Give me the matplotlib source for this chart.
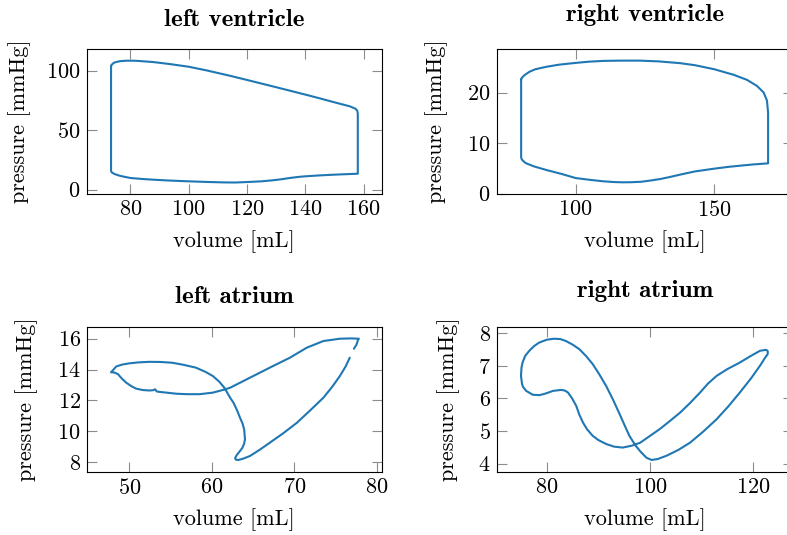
import matplotlib
matplotlib.use("Agg")
import matplotlib.pyplot as plt

plt.rcParams['font.family'] = ['cmr10', 'DejaVu Serif']
plt.rcParams['axes.formatter.use_mathtext'] = True
plt.rcParams['mathtext.fontset'] = 'cm'

FS = 16.0
TFS = 18.0
LINE_COLOR = '#1f77b4'

# ---------------- data ----------------
lv_volume = [73.4, 73.4, 73.4, 73.6, 74.5, 76.5, 80.0, 84.0, 87.7, 93.0, 100.0, 106.0,
             112.0, 116.0, 120.0, 125.0, 129.0, 132.0, 135.0, 138.0, 140.0, 145.0, 150.0,
             155.0, 158.0, 158.0, 158.0, 157.8, 157.2, 155.3, 150.0, 145.0, 140.0, 130.0,
             120.0, 114.0, 106.0, 100.0, 94.0, 88.0, 82.0, 79.0, 76.5, 74.5, 73.6, 73.4]
lv_pressure = [103.5, 60.0, 16.0, 14.6, 13.2, 11.6, 9.8, 9.0, 8.4, 7.7, 7.0, 6.5,
               6.1, 6.0, 6.4, 7.0, 7.9, 8.8, 9.9, 10.8, 11.2, 12.0, 12.6,
               13.1, 13.4, 40.0, 64.0, 66.5, 68.0, 70.0, 73.4, 76.7, 79.9, 86.1,
               92.2, 95.8, 100.3, 103.3, 105.4, 107.2, 108.3, 108.4, 108.0, 106.8, 105.0, 103.5]

rv_volume = [80.4, 80.4, 80.6, 81.1, 82.0, 85.0, 89.4, 95.0, 100.0, 105.0, 110.0, 114.0,
             117.0, 120.0, 123.5, 127.0, 130.5, 134.0, 137.7, 143.0, 150.0, 155.0, 159.4,
             164.0, 169.4, 169.4, 169.0, 167.8, 165.4, 161.8, 157.0, 150.0, 143.0, 137.7,
             130.0, 123.3, 116.0, 110.0, 105.0, 100.0, 94.0, 89.4, 85.5, 83.4, 81.8, 80.8, 80.4]
rv_pressure = [22.6, 7.2, 6.8, 6.5, 6.06, 5.4, 4.7, 3.9, 3.1, 2.75, 2.45, 2.3,
               2.25, 2.27, 2.35, 2.6, 2.9, 3.3, 3.77, 4.4, 4.95, 5.3, 5.54,
               5.78, 6.0, 16.0, 18.4, 20.0, 21.3, 22.5, 23.5, 24.6, 25.4, 25.8,
               26.15, 26.3, 26.3, 26.25, 26.1, 25.85, 25.5, 25.07, 24.6, 24.1, 23.5, 23.0, 22.6]

la_volume = [77.2, 77.5, 77.7, 77.8, 76.8, 75.5, 73.5, 71.5, 69.45, 67.0, 64.6, 62.2,
             61.5, 60.1, 58.5, 57.0, 55.7, 54.5, 53.6, 53.3, 53.1, 52.9, 52.4, 51.6,
             50.8, 50.2, 49.6, 49.1, 48.6, 48.2, 47.9, 47.76, 47.9, 48.4, 49.1, 49.97,
             51.0, 52.4, 53.8, 55.2, 56.6, 58.06, 59.2, 60.1, 60.9, 61.5, 62.2, 62.6,
             63.0, 63.4, 63.7, 63.9, 64.0, 63.9, 63.7, 63.3, 63.0, 62.8, 62.9, 63.2,
             63.8, 64.6, 65.8, 67.0, 68.6, 70.3, 71.9, 73.5, 74.6, 75.5, 76.2, 76.7]
la_pressure = [15.35, 15.6, 15.92, 16.0, 16.02, 16.0, 15.85, 15.42, 14.77, 14.12, 13.47, 12.82,
               12.7, 12.5, 12.4, 12.4, 12.43, 12.5, 12.55, 12.58, 12.72, 12.66, 12.64, 12.67,
               12.76, 12.93, 13.15, 13.4, 13.7, 13.8, 13.82, 13.82, 13.9, 14.2, 14.32, 14.4,
               14.46, 14.5, 14.49, 14.44, 14.3, 14.12, 13.85, 13.58, 13.2, 12.82, 12.17, 11.85,
               11.4, 10.87, 10.5, 10.12, 9.47, 9.2, 8.93, 8.65, 8.45, 8.25, 8.15, 8.13,
               8.22, 8.39, 8.8, 9.25, 9.85, 10.55, 11.35, 12.17, 12.9, 13.58, 14.2, 14.77]

ra_volume = [75.0, 75.1, 75.3, 75.8, 76.6, 77.5, 78.5, 80.0, 81.4, 82.6, 83.7, 85.0,
             86.3, 87.6, 88.9, 90.2, 91.5, 92.8, 94.1, 95.0, 96.0, 97.2, 98.3, 99.3,
             100.3, 101.5, 103.2, 105.5, 107.75, 110.3, 112.9, 115.2, 117.4, 119.5, 121.3, 122.3,
             122.8, 122.8, 122.5, 121.3, 119.5, 117.4, 115.0, 112.9, 111.2, 109.7, 107.7, 105.8,
             103.8, 101.9, 100.0, 98.1, 96.5, 94.7, 93.0, 91.5, 90.0, 88.9, 87.8, 87.0,
             86.3, 85.7, 84.9, 84.1, 83.5, 82.8, 81.2, 79.8, 78.6, 77.3, 76.0, 75.4, 75.2, 75.0]
ra_pressure = [6.69, 6.95, 7.1, 7.3, 7.46, 7.6, 7.71, 7.8, 7.83, 7.82, 7.76, 7.65,
               7.51, 7.3, 7.05, 6.73, 6.38, 5.97, 5.52, 5.2, 4.85, 4.55, 4.34, 4.18,
               4.11, 4.14, 4.24, 4.42, 4.64, 4.98, 5.36, 5.76, 6.18, 6.6, 7.0, 7.25,
               7.36, 7.45, 7.49, 7.46, 7.3, 7.1, 6.9, 6.69, 6.45, 6.18, 5.85, 5.56,
               5.3, 5.06, 4.85, 4.64, 4.55, 4.49, 4.52, 4.6, 4.72, 4.85, 5.05, 5.26,
               5.5, 5.77, 6.0, 6.18, 6.24, 6.26, 6.23, 6.15, 6.1, 6.11, 6.23, 6.35, 6.44, 6.69]

titles = ['left ventricle', 'right ventricle', 'left atrium', 'right atrium']
xlabel = 'volume [mL]'
ylabel = 'pressure [mmHg]'

# ---------------- figure ----------------
W, H = 787, 535
fig = plt.figure(figsize=(W / 100, H / 100), dpi=100)


def px_axes(left, top, right, bottom):
    return fig.add_axes([left / W, (H - bottom) / H, (right - left) / W, (bottom - top) / H])


panels = [
    dict(rect=(86.7, 49, 382, 193.7), x=lv_volume, y=lv_pressure, xlim=(65.05, 166.3),
         ylim=(-3.4, 118.2), xt=[80, 100, 120, 140, 160], yt=[0, 50, 100],
         ylab_x=-0.189, title_gap=23.5),
    dict(rect=(497, 49, 792.5, 193.7), x=rv_volume, y=rv_pressure, xlim=(71.7, 178.2),
         ylim=(0.0, 28.6), xt=[100, 150], yt=[0, 10, 20], ylab_x=-0.166, title_gap=28.3),
    dict(rect=(87, 327, 381.7, 471.7), x=la_volume, y=la_pressure, xlim=(44.85, 80.57),
         ylim=(7.37, 16.76), xt=[50, 60, 70, 80], yt=[8, 10, 12, 14, 16],
         ylab_x=-0.166, title_gap=23.7),
    dict(rect=(497, 327, 792.5, 471.7), x=ra_volume, y=ra_pressure, xlim=(70.35, 127.6),
         ylim=(3.75, 8.19), xt=[80, 100, 120], yt=[4, 5, 6, 7, 8],
         ylab_x=-0.125, title_gap=29.5),
]

for p, title in zip(panels, titles):
    l, t, r, b = p['rect']
    ax = px_axes(l, t, r, b)
    ax.plot(p['x'], p['y'], color=LINE_COLOR, lw=1.5, solid_joinstyle='round',
            solid_capstyle='round')
    ax.set_xlim(*p['xlim'])
    ax.set_ylim(*p['ylim'])
    ax.set_xticks(p['xt'])
    ax.set_yticks(p['yt'])
    ax.tick_params(direction='in', top=True, right=True, length=7, width=0.8,
                   color='#8c8c8c', labelsize=FS, pad=4.5)
    for s in ax.spines.values():
        s.set_linewidth(0.8)
        s.set_color('black')
    ax.set_xlabel(xlabel, fontsize=FS)
    ax.set_ylabel(ylabel, fontsize=FS)
    ax.xaxis.set_label_coords(0.5, -0.255)
    ax.yaxis.set_label_coords(p['ylab_x'], 0.5)
    hpx = b - t
    ax.text(0.5, 1 + p['title_gap'] / hpx, title, transform=ax.transAxes,
            ha='center', va='baseline', fontsize=TFS, family=['cmb10', 'DejaVu Serif'])

fig.savefig('out.png', dpi=100)
